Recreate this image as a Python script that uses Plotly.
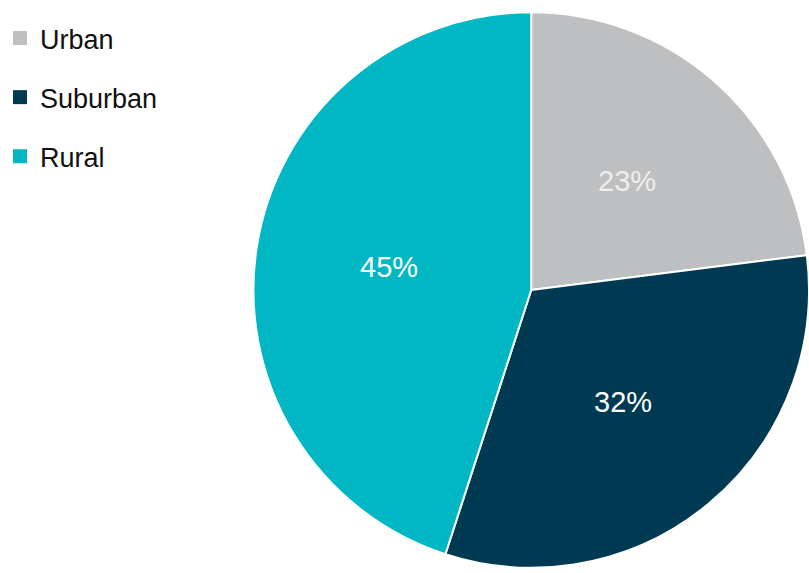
import math
import plotly.graph_objects as go

labels = ["Urban", "Suburban", "Rural"]
values = [23, 32, 45]
colors = ["#BEBFC1", "#003A52", "#00B7C3"]
text_colors = ["#EEEEEE", "#FFFFFF", "#FFFFFF"]

W, H = 809, 573
dom_x = [0.309, 1.0]
dom_y = [0.0, 0.98778]

fig = go.Figure()
fig.add_trace(go.Pie(
    labels=labels,
    values=values,
    sort=False,
    direction="clockwise",
    rotation=0,
    marker=dict(colors=colors, line=dict(color="white", width=2)),
    textinfo="none",
    showlegend=False,
    domain=dict(x=dom_x, y=dom_y),
    hoverinfo="label+percent",
))

# percent labels placed at each slice's mid-angle, about half-way out
cx = (dom_x[0] + dom_x[1]) / 2
cy = (dom_y[0] + dom_y[1]) / 2
r_px = min((dom_x[1] - dom_x[0]) * W, (dom_y[1] - dom_y[0]) * H) / 2
total = sum(values)
cum = 0
for v, tc in zip(values, text_colors):
    mid = (cum + v / 2) / total * 2 * math.pi
    cum += v
    rr = 0.52 * r_px
    fig.add_annotation(
        x=cx + rr * math.sin(mid) / W, y=cy + rr * math.cos(mid) / H,
        xref="paper", yref="paper", showarrow=False,
        text=f"{round(v / total * 100)}%",
        font=dict(family="Liberation Sans, Arial, sans-serif", size=29, color=tc),
        xanchor="center", yanchor="middle",
    )

for lab, col in zip(labels, colors):
    fig.add_trace(go.Scatter(
        x=[None], y=[None], mode="markers",
        marker=dict(symbol="square", size=14, color=col),
        name=lab, legendgroup=lab, showlegend=True,
    ))

fig.update_layout(
    width=W, height=H,
    margin=dict(l=0, r=0, t=0, b=0),
    paper_bgcolor="white", plot_bgcolor="white",
    xaxis=dict(visible=False), yaxis=dict(visible=False),
    legend=dict(
        x=-0.0068, y=0.9756, xanchor="left", yanchor="top",
        font=dict(family="Liberation Sans, Arial, sans-serif", size=27, color="#111111"),
        tracegroupgap=21, itemwidth=30,
        bgcolor="rgba(0,0,0,0)",
    ),
)

fig.write_html(
    "out.html",
    config={"displayModeBar": False},
    post_script="document.body.style.margin='0px';document.body.style.overflow='hidden';",
)
